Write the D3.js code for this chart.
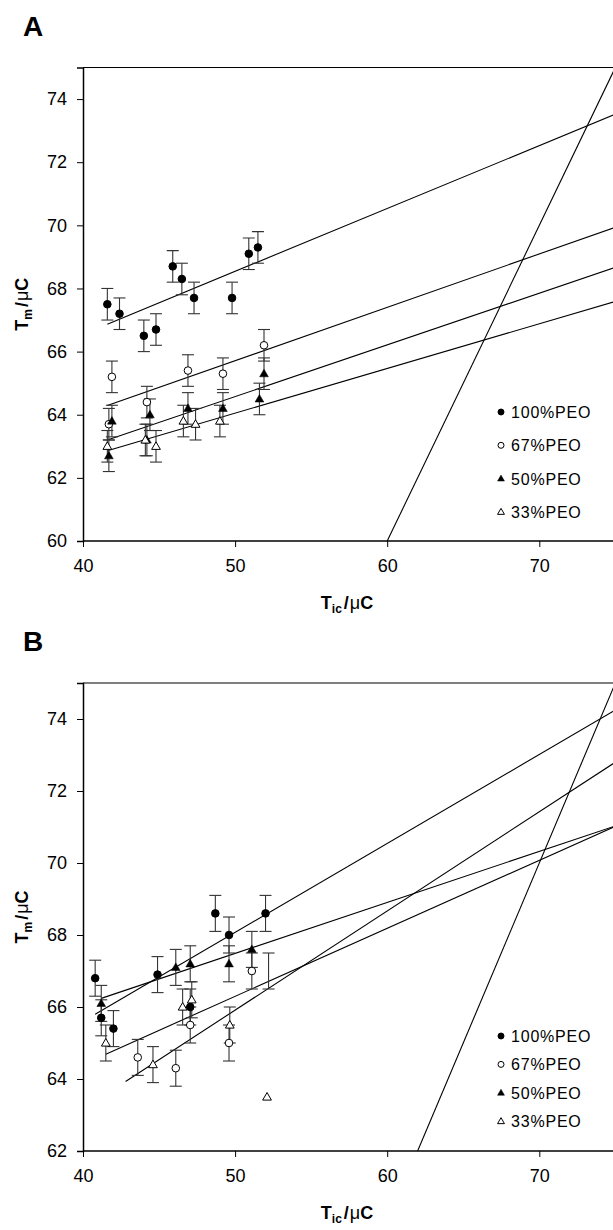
<!DOCTYPE html>
<html>
<head>
<meta charset="utf-8">
<script src="https://cdn.jsdelivr.net/npm/d3@7"></script>
<style>
  body { margin: 0; background: #fff; }
  svg { display: block; font-family: "Liberation Sans", Arial, sans-serif; }
</style>
</head>
<body>
<svg id="chart" width="613" height="1230"></svg>
<script>
// tick values
const xTicks = [40, 50, 60, 70];
const yTicksA = [60, 62, 64, 66, 68, 70, 72, 74];
const yTicksB = [62, 64, 66, 68, 70, 72, 74];

const seriesNames = ["100%PEO", "67%PEO", "50%PEO", "33%PEO"];

// panel A points: [Tic, Tm, error]
const a100 = [[41.6, 67.5, 0.5], [42.4, 67.2, 0.5], [44.0, 66.5, 0.5], [44.8, 66.7, 0.5], [45.9, 68.7, 0.5],
              [46.5, 68.3, 0.5], [47.3, 67.7, 0.5], [49.8, 67.7, 0.5], [50.9, 69.1, 0.5], [51.5, 69.3, 0.5]];
const a67 = [[41.9, 65.2, 0.5], [41.7, 63.7, 0.5], [44.2, 64.4, 0.5], [46.9, 65.4, 0.5], [49.2, 65.3, 0.5], [51.9, 66.2, 0.5]];
const a50 = [[41.7, 62.7, 0.5], [41.9, 63.8, 0.5], [44.2, 63.2, 0.5], [44.4, 64.0, 0.5], [46.9, 64.2, 0.5],
             [49.2, 64.2, 0.5], [51.6, 64.5, 0.5], [51.9, 65.3, 0.5]];
const a33 = [[41.6, 63.0, 0.5], [44.1, 63.2, 0.5], [44.8, 63.0, 0.5], [46.6, 63.8, 0.5], [47.4, 63.7, 0.5], [49.0, 63.8, 0.5]];
// fitted lines [x0, y0, x1, y1], last one is Tm = Tic
const linesA = [[41.6, 66.87, 75, 73.52], [41.6, 64.29, 75, 69.94], [41.6, 63.2, 75, 68.67], [41.6, 62.86, 75, 67.59], [60, 60, 75, 75]];

// panel B points
const b100 = [[40.8, 66.8, 0.5], [41.2, 65.7, 0.5], [42.0, 65.4, 0.5], [44.9, 66.9, 0.5], [47.05, 66.0, 0.5],
              [48.7, 68.6, 0.5], [49.6, 68.0, 0.5], [52.0, 68.6, 0.5]];
const b67 = [[43.6, 64.6, 0.5], [46.1, 64.3, 0.5], [47.05, 65.5, 0.5], [49.6, 65.0, 0.5], [51.1, 67.0, 0.5]];
const b50 = [[41.2, 66.1, 0.5], [46.1, 67.1, 0.5], [47.05, 67.2, 0.5], [49.6, 67.2, 0.5], [51.1, 67.6, 0.5]];
const b33 = [[41.5, 65.0, 0.5], [44.6, 64.4, 0.5], [46.55, 66.0, 0.5], [47.15, 66.2, 0.5], [49.65, 65.5, 0.5], [52.1, 63.5, 0]];
// error bar drawn without a marker
const strayBarsB = [[52.2, 67.0, 0.5]];
const linesB = [[40.8, 65.8, 75, 74.25], [41.5, 64.69, 75, 71.02], [41.2, 66.24, 75, 71.03], [42.8, 63.93, 75, 72.8], [62, 62, 75, 75]];


const svg = d3.select("#chart");

function drawMarker(g, type, x, y, size) {
    if (type === 0 || type === 1) {
        g.append("circle")
            .attr("cx", x).attr("cy", y)
            .attr("r", size)
            .attr("fill", type === 0 ? "#000" : "#fff")
            .attr("stroke", "#000")
            .attr("stroke-width", 1);
    } else {
        const tri = d3.symbol().type(d3.symbolTriangle).size(size * size * 2.3);
        g.append("path")
            .attr("d", tri)
            .attr("transform", `translate(${x},${y + size * 0.15})`)
            .attr("fill", type === 2 ? "#000" : "#fff")
            .attr("stroke", "#000")
            .attr("stroke-width", type === 2 ? 0.5 : 1);
    }
}

function axisTitle(g, sub) {
    g.append("tspan").text("T");
    g.append("tspan").attr("font-size", 12).attr("dy", 4).text(sub);
    g.append("tspan").attr("dy", -4).attr("dx", 2).text("/");
    g.append("tspan").attr("font-weight", "normal").attr("dx", 1).text("\u03bc");
    g.append("tspan").text("C");
}

function drawPanel(opt) {
    const xScale = d3.scaleLinear().domain([40, 75]).range([83, 83 + 35 * 15.21]);
    const yScale = d3.scaleLinear().domain(opt.yDomain).range([opt.bottom, opt.top]);
    const g = svg.append("g");

    // panel letter
    g.append("text")
        .attr("x", 23).attr("y", opt.top - 32)
        .attr("font-size", 28).attr("font-weight", "bold")
        .text(opt.letter);

    const clipId = "clip-" + opt.letter;
    g.append("clipPath").attr("id", clipId)
        .append("rect")
        .attr("x", xScale(40)).attr("y", opt.top)
        .attr("width", xScale(75) - xScale(40)).attr("height", opt.bottom - opt.top);

    // frame top edge
    g.append("line")
        .attr("x1", xScale(40)).attr("x2", 613)
        .attr("y1", opt.top).attr("y2", opt.top)
        .attr("stroke", "#000").attr("stroke-width", 1.2);

    // axes
    const xAxis = d3.axisBottom(xScale).tickValues(xTicks).tickSize(6).tickPadding(12);
    const yAxis = d3.axisLeft(yScale).tickValues(opt.yTicks).tickSize(6).tickPadding(10);

    const gx = g.append("g")
        .attr("transform", `translate(0,${opt.bottom})`)
        .call(xAxis);
    const gy = g.append("g")
        .attr("transform", `translate(${xScale(40)},0)`)
        .call(yAxis);
    [gx, gy].forEach(ax => {
        ax.select(".domain").attr("stroke-width", 1.5);
        ax.selectAll(".tick line").attr("stroke-width", 1);
        ax.selectAll(".tick text").attr("font-size", 18).attr("fill", "#000").attr("font-family", null);
    });
    gx.select(".domain").attr("d", `M${xScale(40)},0H613`);

    // axis titles
    const xt = g.append("text")
        .attr("x", 347).attr("y", opt.bottom + 68)
        .attr("text-anchor", "middle")
        .attr("font-size", 18).attr("font-weight", "bold");
    axisTitle(xt, "ic");

    const yt = g.append("text")
        .attr("transform", `translate(28,${(opt.top + opt.bottom) / 2}) rotate(-90)`)
        .attr("text-anchor", "middle")
        .attr("font-size", 18).attr("font-weight", "bold");
    axisTitle(yt, "m");

    const plot = g.append("g").attr("clip-path", `url(#${clipId})`);

    // fitted lines
    plot.selectAll(".fit")
        .data(opt.lines)
        .enter().append("line")
        .attr("class", "fit")
        .attr("x1", d => xScale(d[0])).attr("y1", d => yScale(d[1]))
        .attr("x2", d => xScale(d[2])).attr("y2", d => yScale(d[3]))
        .attr("stroke", "#000").attr("stroke-width", 1.1);

    // error bars
    const bars = [];
    opt.series.forEach(s => s.forEach(p => { if (p[2] > 0) bars.push(p); }));
    (opt.stray || []).forEach(p => bars.push(p));
    bars.forEach(p => {
        const x = xScale(p[0]);
        const y0 = yScale(p[1] - p[2]);
        const y1 = yScale(p[1] + p[2]);
        plot.append("line")
            .attr("x1", x).attr("x2", x).attr("y1", y0).attr("y2", y1)
            .attr("stroke", "#333").attr("stroke-width", 1.1);
        [y0, y1].forEach(yy => {
            plot.append("line")
                .attr("x1", x - 6).attr("x2", x + 6).attr("y1", yy).attr("y2", yy)
                .attr("stroke", "#333").attr("stroke-width", 1.1);
        });
    });

    // markers
    opt.series.forEach((s, i) => {
        s.forEach(p => drawMarker(plot, i, xScale(p[0]), yScale(p[1]), 3.8));
    });

    // legend
    seriesNames.forEach((name, i) => {
        const ly = opt.legendY + i * opt.legendStep;
        drawMarker(g, i, 501, ly, 3);
        g.append("text")
            .attr("x", 511).attr("y", ly + 6)
            .attr("font-size", 16).attr("letter-spacing", 0.8)
            .text(name);
    });
}

drawPanel({
    letter: "A", top: 67.5, bottom: 541, yDomain: [60, 75], yTicks: yTicksA,
    series: [a100, a67, a50, a33], lines: linesA,
    legendY: 412, legendStep: 33.3
});

drawPanel({
    letter: "B", top: 683, bottom: 1151, yDomain: [62, 75], yTicks: yTicksB,
    series: [b100, b67, b50, b33], lines: linesB, stray: strayBarsB,
    legendY: 1036, legendStep: 28.4
});
</script>
</body>
</html>
